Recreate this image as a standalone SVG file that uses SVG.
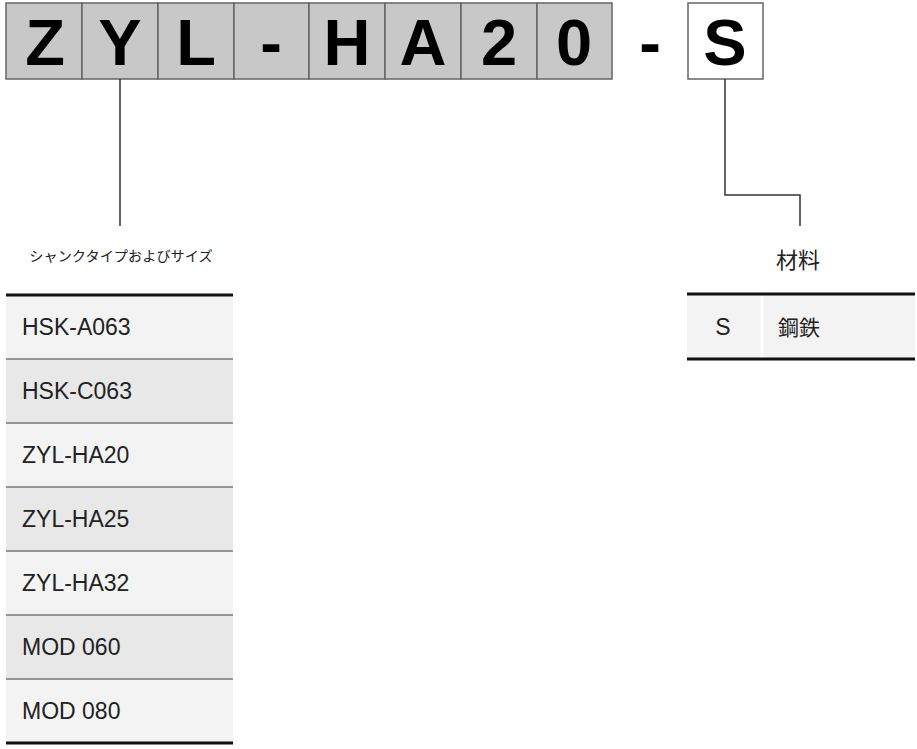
<svg xmlns="http://www.w3.org/2000/svg" width="917" height="749" viewBox="0 0 917 749">
<style>
.box{fill:#c8c8c8;stroke:#666;stroke-width:1.5}
.boxw{fill:#fff;stroke:#666;stroke-width:1.5}
.big{font-family:"Liberation Sans",Arial,sans-serif;font-weight:bold;font-size:65px;fill:#000;text-anchor:middle}
.cell{font-family:"Liberation Sans",Arial,sans-serif;font-size:23px;fill:#222}
.jp{font-family:"Noto Sans CJK JP","Noto Sans",sans-serif;fill:#222}
.conn{fill:none;stroke:#333;stroke-width:1.5}
.sep{stroke:#777;stroke-width:1.5}
.thick{stroke:#111;stroke-width:3}
.r1{fill:#f3f3f3}
.r2{fill:#e8e8e8}
</style>
<rect width="917" height="749" fill="#fff"/>
<g id="code">
<rect class="box" x="6" y="3" width="76" height="76"/>
<rect class="box" x="82" y="3" width="76" height="76"/>
<rect class="box" x="158" y="3" width="76" height="76"/>
<rect class="box" x="234" y="3" width="75" height="76"/>
<rect class="box" x="309" y="3" width="76" height="76"/>
<rect class="box" x="385" y="3" width="76" height="76"/>
<rect class="box" x="461" y="3" width="76" height="76"/>
<rect class="box" x="537" y="3" width="75" height="76"/>
<rect class="boxw" x="688" y="3" width="75" height="76"/>
<text class="big" x="45" y="65">Z</text>
<text class="big" x="120" y="65">Y</text>
<text class="big" x="196" y="65">L</text>
<text class="big" x="271" y="65">-</text>
<text class="big" x="347" y="65">H</text>
<text class="big" x="423" y="65">A</text>
<text class="big" x="499" y="65">2</text>
<text class="big" x="574" y="65">0</text>
<text class="big" x="650" y="65">-</text>
<text class="big" x="725" y="65">S</text>
</g>
<g id="connectors">
<path class="conn" d="M120 79 V226"/>
<path class="conn" d="M725 79 V195 H800 V226"/>
</g>
<g id="shank">
<text class="jp" x="121" y="261" font-size="14.2" text-anchor="middle">シャンクタイプおよびサイズ</text>
<rect class="r1" x="6" y="295" width="227" height="64"/>
<rect class="r2" x="6" y="359" width="227" height="64"/>
<rect class="r1" x="6" y="423" width="227" height="64"/>
<rect class="r2" x="6" y="487" width="227" height="64"/>
<rect class="r1" x="6" y="551" width="227" height="64"/>
<rect class="r2" x="6" y="615" width="227" height="64"/>
<rect class="r1" x="6" y="679" width="227" height="64"/>
<line class="sep" x1="6" y1="359" x2="233" y2="359"/>
<line class="sep" x1="6" y1="423" x2="233" y2="423"/>
<line class="sep" x1="6" y1="487" x2="233" y2="487"/>
<line class="sep" x1="6" y1="551" x2="233" y2="551"/>
<line class="sep" x1="6" y1="615" x2="233" y2="615"/>
<line class="sep" x1="6" y1="679" x2="233" y2="679"/>
<line class="thick" x1="6" y1="295" x2="233" y2="295"/>
<line class="thick" x1="6" y1="743" x2="233" y2="743"/>
<text class="cell" x="22" y="335">HSK-A063</text>
<text class="cell" x="22" y="399">HSK-C063</text>
<text class="cell" x="22" y="463">ZYL-HA20</text>
<text class="cell" x="22" y="527">ZYL-HA25</text>
<text class="cell" x="22" y="591">ZYL-HA32</text>
<text class="cell" x="22" y="655">MOD 060</text>
<text class="cell" x="22" y="719">MOD 080</text>
</g>
<g id="material">
<text class="jp" x="798" y="268" font-size="22" text-anchor="middle">材料</text>
<rect class="r1" x="687" y="294" width="228" height="65"/>
<line x1="762" y1="294" x2="762" y2="359" stroke="#fff" stroke-width="3"/>
<line class="thick" x1="687" y1="294" x2="915" y2="294"/>
<line class="thick" x1="687" y1="359" x2="915" y2="359"/>
<text class="cell" x="723" y="335" text-anchor="middle" font-size="21">S</text>
<text class="jp" x="778" y="335" font-size="21">鋼鉄</text>
</g>
</svg>
